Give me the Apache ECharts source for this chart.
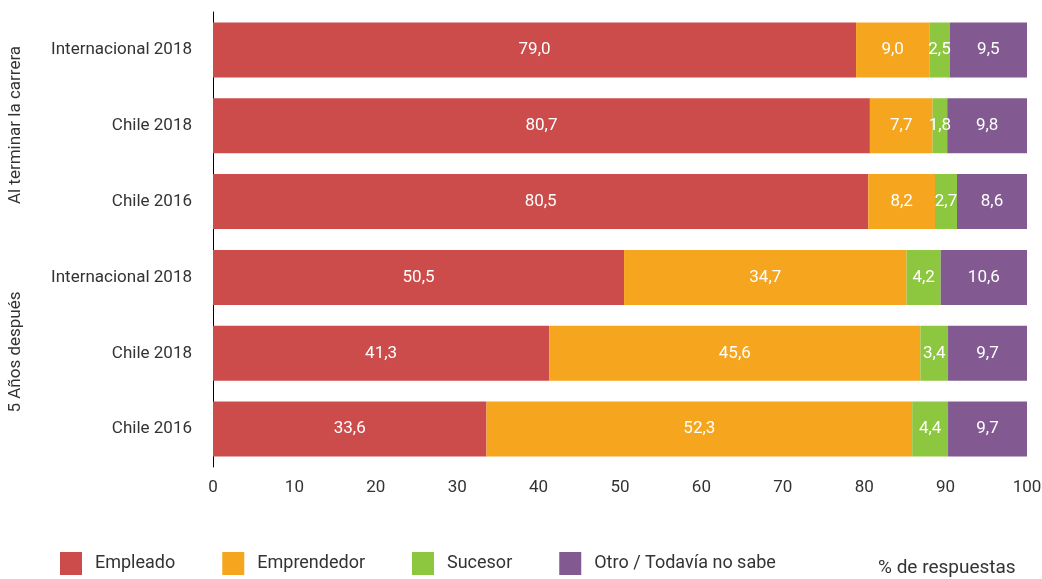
<!DOCTYPE html>
<html>
<head>
<meta charset="utf-8">
<script src="https://cdn.jsdelivr.net/npm/echarts@6/dist/echarts.min.js"></script>
<style>
  html, body { margin: 0; padding: 0; background: #fff; }
  #chart { width: 1042px; height: 579px; }
</style>
</head>
<body>
<div id="chart"></div>
<script>
// categories, top to bottom
const categories = ['Internacional 2018', 'Chile 2018', 'Chile 2016', 'Internacional 2018', 'Chile 2018', 'Chile 2016'];
const groupLabels = ['Al terminar la carrera', '5 Años después'];

const empleado    = [79.0, 80.7, 80.5, 50.5, 41.3, 33.6];
const emprendedor = [9.0, 7.7, 8.2, 34.7, 45.6, 52.3];
const sucesor     = [2.5, 1.8, 2.7, 4.2, 3.4, 4.4];
const otro        = [9.5, 9.8, 8.6, 10.6, 9.7, 9.7];

const seriesNames = ['Empleado', 'Emprendedor', 'Sucesor', 'Otro / Todavía no sabe'];
const colors = ['#CB4C4B', '#F6A51E', '#8DC63F', '#825A91'];

const font = 'Roboto, "Noto Sans", sans-serif';
const fmt = p => p.value.toFixed(1).replace('.', ',');

const chart = echarts.init(document.getElementById('chart'));

const makeSeries = (name, data, i) => ({
  name,
  type: 'bar',
  stack: 'total',
  data,
  barWidth: 55,
  itemStyle: { color: colors[i] },
  label: {
    show: true,
    position: 'inside',
    formatter: fmt,
    color: '#fff',
    fontSize: 17,
    fontFamily: font,
  },
  emphasis: { disabled: true },
});

chart.setOption({
  animation: false,
  color: colors,
  textStyle: { fontFamily: font },
  grid: { left: 213, right: 15, top: 12, bottom: 112, outerBoundsMode: 'none' },
  legend: {
    left: 60,
    top: 552,
    padding: 0,
    itemWidth: 22,
    itemHeight: 23,
    itemGap: 47,
    icon: 'rect',
    textStyle: { fontSize: 18, color: '#333', fontFamily: font, padding: [12, 0, 0, 8] },
    data: seriesNames,
  },
  xAxis: {
    type: 'value',
    min: 0,
    max: 100,
    interval: 10,
    axisLine: { show: false },
    axisTick: { show: false },
    splitLine: { show: false },
    axisLabel: { color: '#333', fontSize: 17, fontFamily: font, margin: 12 },
  },
  yAxis: {
    type: 'category',
    inverse: true,
    data: categories,
    axisLine: { show: true, lineStyle: { color: '#000', width: 1 } },
    axisTick: { show: false },
    axisLabel: { color: '#333', fontSize: 17, fontFamily: font, margin: 21 },
  },
  graphic: [
    {
      type: 'text',
      x: 16,
      y: 125,
      rotation: Math.PI / 2,
      style: { text: groupLabels[0], fill: '#333', fontSize: 17, fontFamily: font, align: 'center', verticalAlign: 'middle' },
    },
    {
      type: 'text',
      x: 16,
      y: 352,
      rotation: Math.PI / 2,
      style: { text: groupLabels[1], fill: '#333', fontSize: 17, fontFamily: font, align: 'center', verticalAlign: 'middle' },
    },
    {
      type: 'text',
      x: 878,
      y: 568,
      style: { text: '% de respuestas', fill: '#333', fontSize: 19, fontFamily: font, align: 'left', verticalAlign: 'middle' },
    },
  ],
  series: [
    makeSeries(seriesNames[0], empleado, 0),
    makeSeries(seriesNames[1], emprendedor, 1),
    makeSeries(seriesNames[2], sucesor, 2),
    makeSeries(seriesNames[3], otro, 3),
  ],
});

window.addEventListener('resize', () => chart.resize());
</script>
</body>
</html>
